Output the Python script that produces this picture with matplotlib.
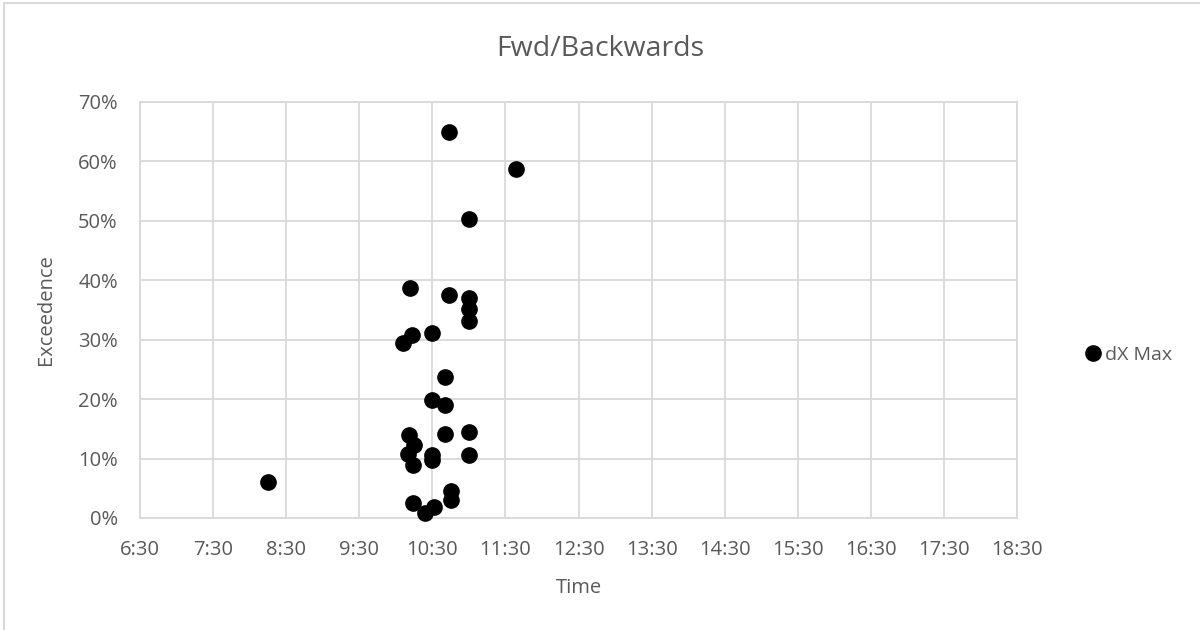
import matplotlib.pyplot as plt
from matplotlib.patches import Rectangle

plt.rcParams['font.family'] = ['Open Sans', 'DejaVu Sans']

# time of each reading and its exceedence (%)
times = ['10:44', '11:39', '11:00',
         '10:12', '10:44', '11:00', '11:00', '11:00',
         '10:13', '10:06', '10:30', '10:40', '10:30', '10:40',
         '10:11', '10:15', '10:40', '11:00',
         '10:10', '10:14', '10:30', '10:30', '11:00',
         '10:45', '10:45', '10:14', '10:24', '10:31',
         '8:15']
exceedence = [64.9, 58.8, 50.3,
              38.7, 37.5, 37.1, 35.2, 33.1,
              30.8, 29.5, 31.1, 23.8, 19.8, 19.0,
              14.0, 12.2, 14.2, 14.5,
              10.7, 8.9, 10.6, 9.7, 10.6,
              4.6, 3.0, 2.5, 0.8, 1.9,
              6.1]

tick_labels = ['6:30', '7:30', '8:30', '9:30', '10:30', '11:30', '12:30',
               '13:30', '14:30', '15:30', '16:30', '17:30', '18:30']


def to_hours(t):
    h, m = t.split(':')
    return int(h) + int(m) / 60


x = [to_hours(t) for t in times]
ticks = [to_hours(t) for t in tick_labels]

grey = '#595959'
grid = '#d9d9d9'

fig = plt.figure(figsize=(12, 6.3), dpi=100)
ax = fig.add_axes([0.1167, 0.1778, 0.7308, 0.6603])

ax.plot(x, exceedence, 'o', color='black', markersize=11, label='dX Max',
        clip_on=False, zorder=3)

ax.set_xlim(ticks[0], ticks[-1])
ax.set_ylim(0, 70)
ax.set_xticks(ticks)
ax.set_xticklabels(tick_labels)
ax.set_yticks(range(0, 71, 10))
ax.set_yticklabels([f'{v}%' for v in range(0, 71, 10)])

ax.grid(True, color=grid, linewidth=1.3)
ax.set_axisbelow(True)
for s in ax.spines.values():
    s.set_color(grid)
    s.set_linewidth(1.3)
ax.tick_params(length=0, colors=grey, labelsize=14.5)
ax.tick_params(axis='x', pad=16)
ax.tick_params(axis='y', pad=16)

ax.set_xlabel('Time', color=grey, fontsize=14.5)
ax.xaxis.set_label_coords(0.5, -0.168)
ax.xaxis.label.set_verticalalignment('center')
ax.set_ylabel('Exceedence', color=grey, fontsize=14.5)
ax.yaxis.set_label_coords(-0.107, 0.5)
ax.yaxis.label.set_verticalalignment('center')

fig.text(0.5, 0.922, 'Fwd/Backwards', color=grey, fontsize=20.5,
         ha='center', va='center')

leg = fig.legend(loc='center left', bbox_to_anchor=(0.904, 0.4365), frameon=False,
                 handlelength=0.8, handletextpad=0.25, borderpad=0,
                 borderaxespad=0, fontsize=14)
for t in leg.get_texts():
    t.set_color(grey)

# light border along the top and left of the chart area
fig.patches.append(Rectangle((0.003, -0.01), 1.2, 1.005, transform=fig.transFigure,
                             fill=False, edgecolor=grid, linewidth=1.5))

fig.savefig('out.png', dpi=100)
